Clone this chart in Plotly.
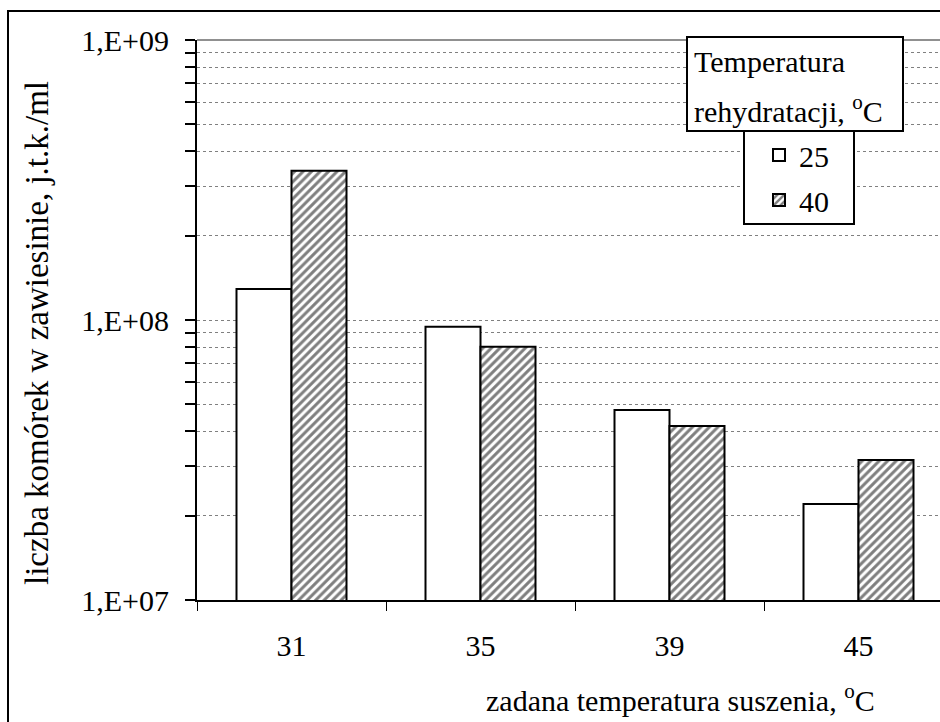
import plotly.graph_objects as go

categories = ["31", "35", "39", "45"]
series_names = ["25", "40"]
values_25 = [1.29e8, 9.46e7, 4.77e7, 2.2e7]
values_40 = [3.41e8, 8.03e7, 4.18e7, 3.16e7]
ytick_vals = [1e7, 1e8, 1e9]
ytick_text = ["1,E+07", "1,E+08", "1,E+09"]
minor_vals = [k * 10 ** e for e in (7, 8) for k in range(2, 10)]

FONT = "Liberation Serif, Times New Roman, serif"
W, H = 940, 722
L, R, T, B = 197, 0, 40, 122
PW, PH = W - L - R, H - T - B


def px(x):
    return (x - L) / PW


def py(y):
    return (H - B - y) / PH


fig = go.Figure()
fig.add_trace(go.Bar(
    x=categories, y=values_25, name=series_names[0], legendgroup="a",
    marker=dict(color="white", line=dict(color="black", width=2)),
))
fig.add_trace(go.Bar(
    x=categories, y=values_40, name=series_names[1], legendgroup="b",
    marker=dict(color="white", line=dict(color="black", width=2),
                pattern=dict(shape="/", fgcolor="black", bgcolor="white",
                             size=6, solidity=0.5)),
))

cat_w = 189.0
xmax = -0.5 + PW / cat_w

fig.update_layout(
    width=W, height=H,
    margin=dict(l=L, r=R, t=T, b=B, pad=0, autoexpand=False),
    paper_bgcolor="white", plot_bgcolor="white",
    font=dict(family=FONT, size=30, color="black"),
    barmode="group", bargap=0.418, bargroupgap=0,
    showlegend=True,
    legend=dict(
        xref="container", yref="container",
        x=759 / W, y=1 - 129 / H, xanchor="left", yanchor="top",
        bgcolor="rgba(0,0,0,0)", borderwidth=0,
        font=dict(family=FONT, size=30, color="black"),
        traceorder="grouped", tracegroupgap=3,
    ),
    xaxis=dict(
        type="category", range=[-0.5, xmax],
        showline=True, linecolor="black", linewidth=2,
        ticks="outside", ticklen=9, tickwidth=1, tickcolor="black",
        tickson="boundaries", showgrid=False, zeroline=False,
        tickfont=dict(family=FONT, size=30), ticklabelstandoff=18,
    ),
    yaxis=dict(
        type="log", range=[7, 9],
        tickmode="array", tickvals=ytick_vals, ticktext=ytick_text,
        showline=True, linecolor="black", linewidth=2,
        ticks="outside", ticklen=10, tickwidth=2, tickcolor="black",
        showgrid=True, gridcolor="#808080", griddash="dot", gridwidth=1,
        zeroline=False,
        tickfont=dict(family=FONT, size=30), ticklabelstandoff=10,
        minor=dict(tickmode="array", tickvals=minor_vals, ticks="outside",
                   ticklen=10, tickwidth=2, tickcolor="black",
                   showgrid=True, gridcolor="#808080", griddash="dot",
                   gridwidth=1),
    ),
)

shapes = [
    # top gridline at 1E+09 (solid gray)
    dict(type="line", xref="paper", yref="paper", x0=0, x1=1, y0=1, y1=1,
         line=dict(color="#909090", width=2), layer="below"),
    # outer frame (cropped at right and bottom)
    dict(type="rect", xref="paper", yref="paper",
         x0=px(8), x1=px(960), y0=py(11), y1=py(760),
         line=dict(color="black", width=2), fillcolor="rgba(0,0,0,0)",
         layer="above"),
    # legend title box
    dict(type="rect", xref="paper", yref="paper",
         x0=px(687), x1=px(903), y0=py(37), y1=py(131),
         line=dict(color="black", width=2), fillcolor="white", layer="above"),
    # legend items box
    dict(type="rect", xref="paper", yref="paper",
         x0=px(744), x1=px(854), y0=py(131), y1=py(224),
         line=dict(color="black", width=2), fillcolor="white", layer="above"),
]
fig.update_layout(shapes=shapes)

annotations = [
    dict(text="Temperatura", xref="paper", yref="paper",
         x=px(692), y=py(62), xanchor="left", yanchor="middle",
         showarrow=False, font=dict(family=FONT, size=30)),
    dict(text="rehydratacji, <sup>o</sup>C", xref="paper", yref="paper",
         x=px(692), y=py(109), xanchor="left", yanchor="middle",
         showarrow=False, font=dict(family=FONT, size=30)),
    dict(text="zadana temperatura suszenia, <sup>o</sup>C", xref="paper",
         yref="paper", x=px(484), y=py(698), xanchor="left",
         yanchor="middle", showarrow=False, font=dict(family=FONT, size=30)),
    dict(text="liczba komórek w zawiesinie, j.t.k./ml", xref="paper",
         yref="paper", x=px(37), y=py(333), xanchor="center",
         yanchor="middle", textangle=-90, showarrow=False,
         font=dict(family=FONT, size=33)),
]
fig.update_layout(annotations=annotations)

fig.write_html("out.html",
               config={"displayModeBar": False},
               post_script="document.body.style.margin='0';"
                           "document.body.style.overflow='hidden';")
